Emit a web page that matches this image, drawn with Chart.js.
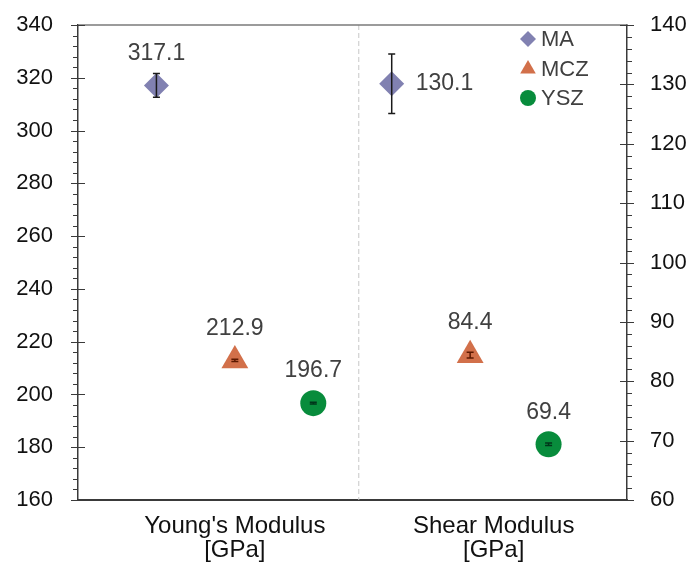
<!DOCTYPE html>
<html>
<head>
<meta charset="utf-8">
<script src="https://cdn.jsdelivr.net/npm/chart.js@4.4.1/dist/chart.umd.min.js"></script>
<style>
  body { margin: 0; background: #fff; }
  canvas { display: block; }
</style>
</head>
<body>
<canvas id="chart" width="689" height="565"></canvas>
<script>
// data
const categories = [["Young's Modulus", '[GPa]'], ['Shear Modulus', '[GPa]']];
const materials = ['MA', 'MCZ', 'YSZ'];
const youngValues = [317.1, 212.9, 196.7];
const youngErrors = [4.5, 0.4, 0.3];
const shearValues = [130.1, 84.4, 69.4];
const shearErrors = [5.0, 0.5, 0.2];
const leftTicks = [160, 180, 200, 220, 240, 260, 280, 300, 320, 340];
const rightTicks = [60, 70, 80, 90, 100, 110, 120, 130, 140];

// look
const colors = ['#8181b1', '#d2704a', '#088c3c'];
const errColors = ['#1a1a1a', '#5c1800', '#00361a'];
const shapes = ['rectRot', 'triangle', 'circle'];
const radii = [12.5, 15.5, 13];
const categoryPos = [2, 5.3];
const dividerPos = 3.58;
const font = "'Liberation Sans', Arial, sans-serif";

const datasets = [];
materials.forEach((m, i) => {
  datasets.push({
    label: m, yAxisID: 'y', xAxisID: 'x',
    data: [{ x: i + 1, y: youngValues[i] }],
    errors: [youngErrors[i]],
    labelSide: 'above',
    pointStyle: shapes[i], pointRadius: radii[i], pointHoverRadius: radii[i],
    backgroundColor: colors[i], borderColor: colors[i], borderWidth: 0,
    showLine: false
  });
  datasets.push({
    label: m, yAxisID: 'y1', xAxisID: 'x',
    data: [{ x: i + 4, y: shearValues[i] }],
    errors: [shearErrors[i]],
    labelSide: i === 0 ? 'right' : 'above',
    pointStyle: shapes[i], pointRadius: radii[i], pointHoverRadius: radii[i],
    backgroundColor: colors[i], borderColor: colors[i], borderWidth: 0,
    showLine: false
  });
});

const framePlugin = {
  id: 'frame',
  beforeDatasetsDraw(chart) {
    const { ctx, chartArea: a } = chart;
    const xs = chart.scales.x.getPixelForValue(dividerPos);
    ctx.save();
    ctx.strokeStyle = '#c8c8c8';
    ctx.lineWidth = 1;
    ctx.setLineDash([5, 3]);
    ctx.beginPath();
    ctx.moveTo(xs, a.top);
    ctx.lineTo(xs, a.bottom);
    ctx.stroke();
    ctx.restore();
  },
  afterDraw(chart) {
    const { ctx, chartArea: a } = chart;
    const yl = chart.scales.y, yr = chart.scales.y1;
    ctx.save();
    ctx.strokeStyle = '#7a7a7a';
    ctx.lineWidth = 1.5;
    ctx.beginPath();
    ctx.moveTo(a.left, a.top);
    ctx.lineTo(a.right, a.top);
    ctx.stroke();

    ctx.strokeStyle = '#3a3a3a';
    ctx.lineWidth = 1.2;
    ctx.beginPath();
    // left axis ticks
    for (let v = leftTicks[0]; v <= leftTicks[leftTicks.length - 1]; v += 4) {
      const p = Math.round(yl.getPixelForValue(v)) + 0.5;
      const major = leftTicks.includes(v);
      ctx.moveTo(a.left - (major ? 7 : 5), p);
      ctx.lineTo(a.left + (major ? 7 : 0), p);
    }
    // right axis ticks
    for (let v = rightTicks[0]; v <= rightTicks[rightTicks.length - 1]; v += 2) {
      const p = Math.round(yr.getPixelForValue(v)) + 0.5;
      const major = rightTicks.includes(v);
      ctx.moveTo(a.right - (major ? 7 : 0), p);
      ctx.lineTo(a.right + (major ? 7 : 5), p);
    }
    ctx.stroke();

    // error bars
    chart.data.datasets.forEach((ds, di) => {
      const meta = chart.getDatasetMeta(di);
      const sc = chart.scales[ds.yAxisID];
      const mi = Math.floor(di / 2);
      ctx.strokeStyle = errColors[mi];
      ctx.lineWidth = 1.5;
      meta.data.forEach((pt, k) => {
        const v = ds.data[k].y, e = ds.errors[k];
        const t = sc.getPixelForValue(v + e), b = sc.getPixelForValue(v - e);
        ctx.beginPath();
        ctx.moveTo(pt.x, t); ctx.lineTo(pt.x, b);
        ctx.moveTo(pt.x - 3.5, t); ctx.lineTo(pt.x + 3.5, t);
        ctx.moveTo(pt.x - 3.5, b); ctx.lineTo(pt.x + 3.5, b);
        ctx.stroke();
      });
    });

    // value labels
    ctx.fillStyle = '#404040';
    ctx.font = '23px ' + font;
    chart.data.datasets.forEach((ds, di) => {
      const meta = chart.getDatasetMeta(di);
      meta.data.forEach((pt, k) => {
        const txt = ds.data[k].y.toFixed(1);
        ctx.textBaseline = 'middle';
        if (ds.labelSide === 'right') {
          ctx.textAlign = 'left';
          ctx.fillText(txt, pt.x + 24, pt.y);
        } else {
          ctx.textAlign = 'center';
          ctx.fillText(txt, pt.x, pt.y - 32);
        }
      });
    });

    // legend
    ctx.font = '22px ' + font;
    ctx.textAlign = 'left';
    ctx.textBaseline = 'middle';
    const legY = [39, 69, 98];
    materials.forEach((m, i) => {
      ctx.fillStyle = colors[i];
      ctx.strokeStyle = colors[i];
      Chart.helpers.drawPoint(ctx, { pointStyle: shapes[i], radius: i === 1 ? 9 : 8, rotation: 0, borderWidth: 0 }, 528, legY[i]);
      ctx.fillStyle = '#404040';
      ctx.fillText(m, 541, legY[i] + 1);
    });
    ctx.restore();
  }
};

const noPad = s => { s.paddingTop = 0; s.paddingBottom = 0; };

new Chart(document.getElementById('chart').getContext('2d'), {
  type: 'scatter',
  data: { datasets },
  options: {
    responsive: false,
    animation: false,
    events: [],
    layout: { padding: { top: 25, left: 0, right: 0, bottom: 0 } },
    plugins: { legend: { display: false }, tooltip: { enabled: false } },
    scales: {
      x: {
        type: 'linear', min: 0, max: 7, position: 'bottom',
        grid: { display: false, drawTicks: false },
        border: { display: true, color: '#3a3a3a', width: 2 },
        afterBuildTicks: s => { s.ticks = categoryPos.map(v => ({ value: v })); },
        afterFit: s => { s.height = 65; s.paddingLeft = 0; s.paddingRight = 0; },
        ticks: {
          autoSkip: false, maxRotation: 0, padding: 14,
          color: '#111', font: { family: font, size: 24, lineHeight: 1.0 },
          callback: (v, i) => categories[i]
        }
      },
      y: {
        type: 'linear', position: 'left', min: 160, max: 340,
        grid: { display: false, drawTicks: false },
        border: { display: true, color: '#3a3a3a', width: 1.5 },
        afterBuildTicks: s => { s.ticks = leftTicks.map(v => ({ value: v })); },
        afterFit: s => { s.width = 78; noPad(s); },
        ticks: { padding: 25, color: '#111', font: { family: font, size: 22 } }
      },
      y1: {
        type: 'linear', position: 'right', min: 60, max: 140,
        grid: { display: false, drawTicks: false },
        border: { display: true, color: '#3a3a3a', width: 1.5 },
        afterBuildTicks: s => { s.ticks = rightTicks.map(v => ({ value: v })); },
        afterFit: s => { s.width = 62; noPad(s); },
        ticks: { padding: 23, color: '#111', font: { family: font, size: 22 } }
      }
    }
  },
  plugins: [framePlugin]
});
</script>
</body>
</html>
